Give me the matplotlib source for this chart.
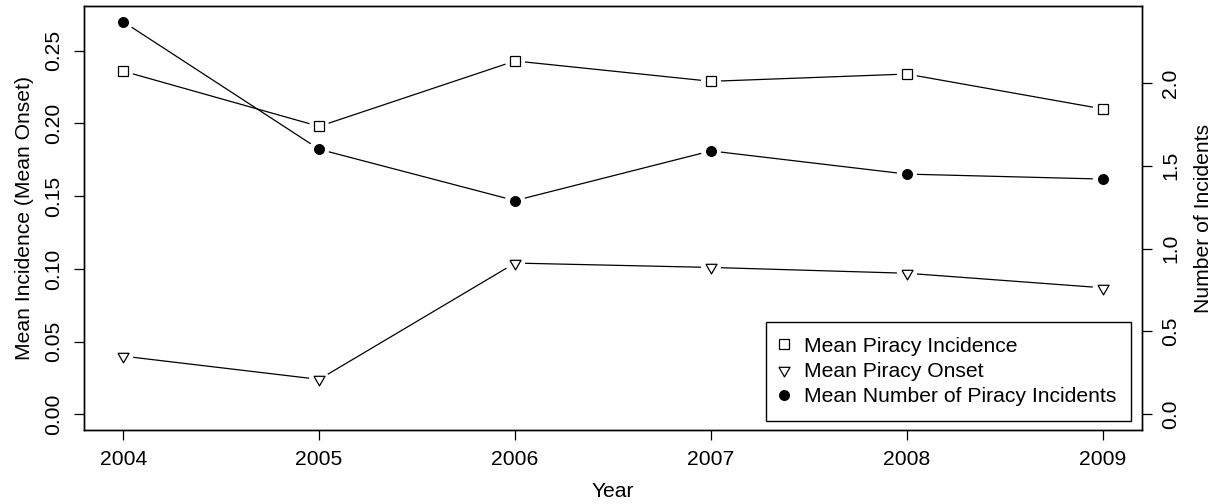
import numpy as np
import matplotlib

matplotlib.use("Agg")
import matplotlib.pyplot as plt
from matplotlib.lines import Line2D

years = [2004, 2005, 2006, 2007, 2008, 2009]
mean_incidence = [0.236, 0.198, 0.243, 0.229, 0.234, 0.210]
mean_onset = [0.040, 0.024, 0.104, 0.101, 0.097, 0.087]
mean_incidents = [2.37, 1.60, 1.29, 1.59, 1.45, 1.42]

left_ticks = [0.00, 0.05, 0.10, 0.15, 0.20, 0.25]
left_labels = ["0.00", "0.05", "0.10", "0.15", "0.20", "0.25"]
right_ticks = [0.0, 0.5, 1.0, 1.5, 2.0]
right_labels = ["0.0", "0.5", "1.0", "1.5", "2.0"]

plt.rcParams["font.family"] = ["Liberation Sans", "DejaVu Sans"]
FS = 15.2
GAP_PX = 10.0
TRIANGLE = [(-1, 0.577), (1, 0.577), (0, -1.155), (-1, 0.577)]


def r_range(lo, hi):
    pad = (hi - lo) * 0.04
    return lo - pad, hi + pad


def gapped_lines(axis, x, y):
    # type="b" style: segments stop short of each point
    pts = axis.transData.transform(np.column_stack([x, y]))
    inv = axis.transData.inverted()
    for p0, p1 in zip(pts[:-1], pts[1:]):
        d = p1 - p0
        length = np.hypot(*d)
        if length <= 2 * GAP_PX:
            continue
        u = d / length
        seg = inv.transform(np.array([p0 + u * GAP_PX, p1 - u * GAP_PX]))
        axis.plot(seg[:, 0], seg[:, 1], color="black", linewidth=0.9,
                  solid_capstyle="butt")


fig = plt.figure(figsize=(12.15, 5.04), dpi=100)
ax = fig.add_axes([84 / 1215, 1 - 430 / 504, (1142 - 84) / 1215, (430 - 6) / 504])
ax2 = ax.twinx()

ax.set_xlim(*r_range(min(years), max(years)))
ax.set_ylim(*r_range(0, 0.27))
ax2.set_ylim(*r_range(0, max(mean_incidents)))

gapped_lines(ax, years, mean_incidence)
gapped_lines(ax, years, mean_onset)
gapped_lines(ax2, years, mean_incidents)

ax.plot(years, mean_incidence, linestyle="none", marker="s", ms=7,
        mfc="white", mec="black", mew=0.9)
ax.plot(years, mean_onset, linestyle="none", marker=TRIANGLE, ms=9.2,
        mfc="white", mec="black", mew=0.9)
ax2.plot(years, mean_incidents, linestyle="none", marker="o", ms=7,
         mfc="black", mec="black", mew=0.9)

ax.set_xticks(years)
ax.set_xticklabels([str(y) for y in years], fontsize=FS)
ax.set_yticks(left_ticks)
ax.set_yticklabels(left_labels, fontsize=FS, rotation=90, va="center")
ax2.set_yticks(right_ticks)
ax2.set_yticklabels(right_labels, fontsize=FS, rotation=90, va="center")

ax.tick_params(axis="x", length=7.5, width=0.9, pad=7)
ax.tick_params(axis="y", length=7, width=0.9, pad=8)
ax2.tick_params(axis="y", length=7, width=0.9, pad=7)

for a in (ax, ax2):
    for spine in a.spines.values():
        spine.set_linewidth(1.0)

ax.set_xlabel("Year", fontsize=FS, labelpad=9)
ax.set_ylabel("Mean Incidence (Mean Onset)", fontsize=FS, labelpad=7)
ax2.set_ylabel("Number of Incidents", fontsize=FS, labelpad=10)

handles = [
    Line2D([], [], linestyle="none", marker="s", ms=7, mfc="white", mec="black", mew=0.9),
    Line2D([], [], linestyle="none", marker=TRIANGLE, ms=9.2, mfc="white", mec="black", mew=0.9),
    Line2D([], [], linestyle="none", marker="o", ms=7, mfc="black", mec="black", mew=0.9),
]
labels = ["Mean Piracy Incidence", "Mean Piracy Onset", "Mean Number of Piracy Incidents"]
leg = ax2.legend(handles, labels, loc="lower right", bbox_to_anchor=(0.990, 0.021),
                 borderaxespad=0, fontsize=FS, fancybox=False, frameon=True,
                 edgecolor="black", framealpha=1, handlelength=0.3,
                 handletextpad=0.8, borderpad=0.7, labelspacing=0.3)
leg.get_frame().set_linewidth(1.0)

fig.savefig("out.png", dpi=100)
